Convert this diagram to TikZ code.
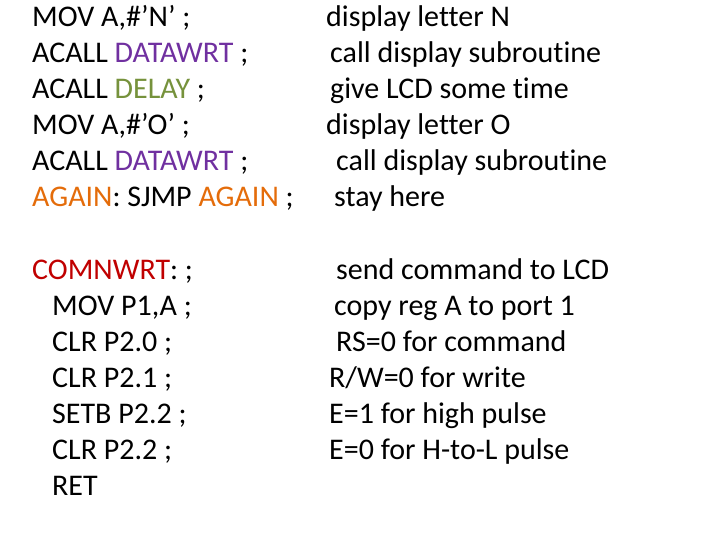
\documentclass[tikz,border=0pt]{standalone}
\usepackage{fontspec}
\setmainfont[Ligatures=NoCommon]{Carlito}
\definecolor{pur}{RGB}{112,48,160}
\definecolor{olv}{RGB}{118,146,60}
\definecolor{org}{RGB}{228,108,10}
\definecolor{drd}{RGB}{192,0,0}
\begin{document}
\begin{tikzpicture}[x=1pt,y=-1pt,t/.style={anchor=base west,inner sep=0pt,font=\fontsize{30}{34}\selectfont}]
\useasboundingbox (0,0) rectangle (720,540);
\node[t] (l1) at (32,27) {MOV A,\#’N’ ;};
\node[t] (l2) at (32,63) {ACALL \textcolor{pur}{DATAWRT} ;};
\node[t] (l3) at (32,99) {ACALL \textcolor{olv}{DELAY} ;};
\node[t] (l4) at (32,135) {MOV A,\#’O’ ;};
\node[t] (l5) at (32,171) {ACALL \textcolor{pur}{DATAWRT} ;};
\node[t] (l6) at (32,207) {\textcolor{org}{AGAIN}: SJMP \textcolor{org}{AGAIN} ;};
\node[t] (l7) at (32,279) {\textcolor{drd}{COMNWRT}: ;};
\node[t] (l8) at (52,315) {MOV P1,A ;};
\node[t] (l9) at (52,351) {CLR P2.0 ;};
\node[t] (l10) at (52,387) {CLR P2.1 ;};
\node[t] (l11) at (52,423) {SETB P2.2 ;};
\node[t] (l12) at (52,459) {CLR P2.2 ;};
\node[t] (l13) at (52,495) {RET};
\node[t] (r1) at (326,27) {display letter N};
\node[t] (r2) at (330,63) {call display subroutine};
\node[t] (r3) at (330,99) {give LCD some time};
\node[t] (r4) at (326,135) {display letter O};
\node[t] (r5) at (336,171) {call display subroutine};
\node[t] (r6) at (334,207) {stay here};
\node[t] (r7) at (336,279) {send command to LCD};
\node[t] (r8) at (334,315) {copy reg A to port 1};
\node[t] (r9) at (336,351) {RS=0 for command};
\node[t] (r10) at (329,387) {R/W=0 for write};
\node[t] (r11) at (329,423) {E=1 for high pulse};
\node[t] (r12) at (329,459) {E=0 for H-to-L pulse};
\end{tikzpicture}
\end{document}
